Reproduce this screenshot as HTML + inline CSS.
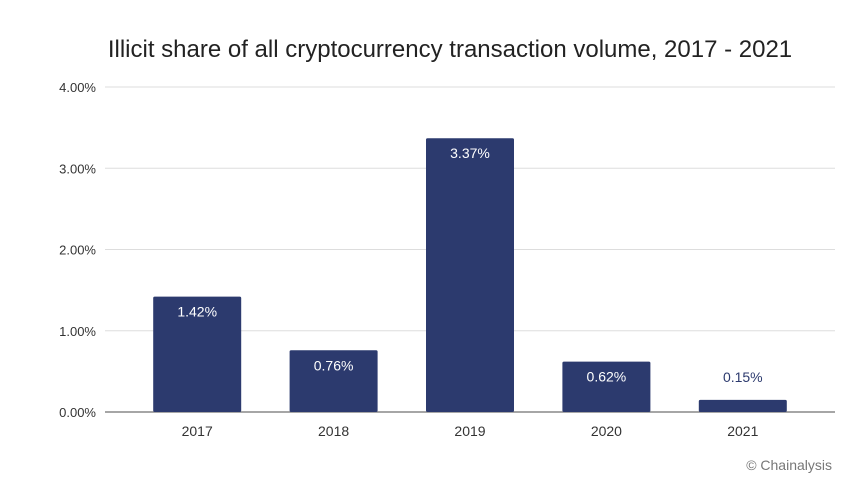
<!DOCTYPE html>
<html><head><meta charset="utf-8"><style>
body{margin:0;background:#fff;}
svg{display:block;font-family:"Liberation Sans",sans-serif;}
</style></head><body>
<svg id="chart" width="850" height="479">
<text x="450" y="57" text-anchor="middle" font-size="24" fill="#222">Illicit share of all cryptocurrency transaction volume, 2017 - 2021</text>
<g id="grid"></g><g id="bars"></g><g id="labels"></g>
<text x="832" y="470" text-anchor="end" font-size="14" fill="#777">© Chainalysis</text>
</svg>
<script>
const categories=["2017","2018","2019","2020","2021"];
const values=[1.42,0.76,3.37,0.62,0.15];
const valueLabels=["1.42%","0.76%","3.37%","0.62%","0.15%"];
const yTicks=[0,1,2,3,4];
const yTickLabels=["0.00%","1.00%","2.00%","3.00%","4.00%"];
const NS="http://www.w3.org/2000/svg";
const x0=129,step=136.4,bw=88,yBase=412,pxPer=81.25,left=105,right=835;
const y=v=>yBase-v*pxPer;
const xc=i=>x0+step*(i+0.5);
function mk(tag,attrs,parent){const e=document.createElementNS(NS,tag);for(const k in attrs)e.setAttribute(k,attrs[k]);parent.appendChild(e);return e;}
const grid=document.getElementById('grid'),bars=document.getElementById('bars'),labels=document.getElementById('labels');
yTicks.forEach((t,i)=>{
 const l=mk('line',{x1:left,x2:right,y1:y(t),y2:y(t),stroke:t===0?'#888':'#ddd','stroke-width':t===0?1.5:1},grid);
 
 
 const tx=mk('text',{x:96,y:y(t)+5,'text-anchor':'end','font-size':13,fill:'#333'},grid);
 tx.textContent=yTickLabels[i];
 
 
});
categories.forEach((c,i)=>{
 const top=y(values[i]);
 const r=mk('rect',{x:xc(i)-bw/2,y:top,width:bw,height:yBase-top,fill:'#2c3a6e',rx:1.5},bars);
 
 
 const inside=(yBase-top)>30;
 const vt=mk('text',{x:xc(i),y:inside?top+20:top-18,'text-anchor':'middle','font-size':14,fill:inside?'#fff':'#2c3a6e'},labels);
 vt.textContent=valueLabels[i];
 
 
 const ct=mk('text',{x:xc(i),y:436,'text-anchor':'middle','font-size':14,fill:'#333'},labels);
 ct.textContent=c;
 
 
});
</script>
</body></html>
